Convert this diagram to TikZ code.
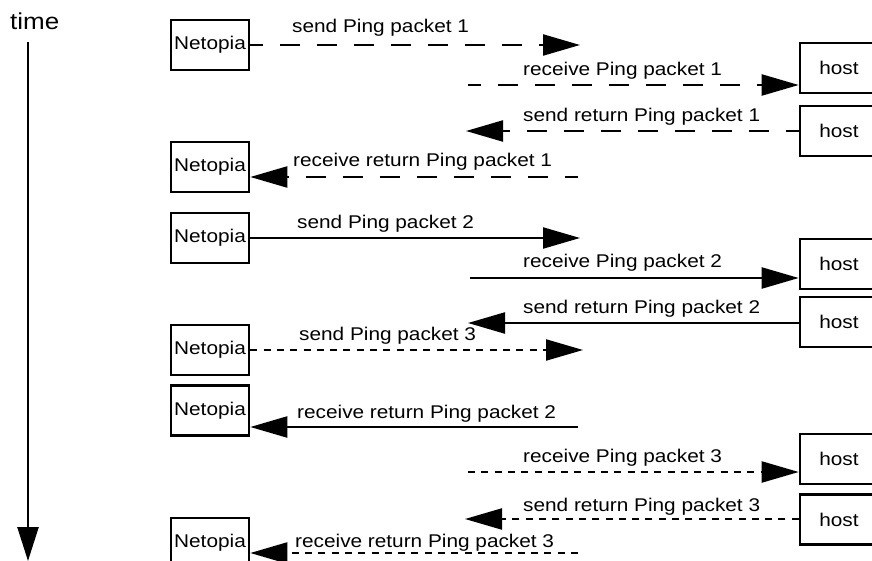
\documentclass[tikz,border=0pt]{standalone}
\usepackage{fontspec}
\setmainfont{Liberation Sans}[FakeStretch=1.13]
\usetikzlibrary{arrows.meta}
\newcommand{\lab}{\fontsize{18.4}{22}\selectfont}
\begin{document}
\begin{tikzpicture}[x=1pt,y=-1pt,
  box/.style={draw, line width=2.6pt, minimum width=78pt, minimum height=50pt, inner sep=0pt, font=\lab},
  msg/.style={line width=2.2pt, -{Triangle[length=37pt,width=21pt]}},
  dsh/.style={dash pattern=on 20pt off 17pt, dash phase=7pt},
  dts/.style={dash pattern=on 7pt off 6.3pt},
  lbl/.style={anchor=base west, inner sep=0pt, font=\lab}]
\useasboundingbox (0,0) rectangle (872,561);
\clip (0,0) rectangle (872,561);
% time axis
\node[anchor=base west, inner sep=0pt, font=\fontsize{23}{27}\selectfont] (time) at (10,30) {time};
\coordinate (t0) at (28,42);
\coordinate (t1) at (28,561);
\draw[line width=2.4pt, -{Triangle[length=34pt,width=21pt]}] (t0) -- (t1);
% Netopia boxes
\node[box] (n1) at (210,45) {Netopia};
\node[box] (n2) at (210,167) {Netopia};
\node[box] (n3) at (210,238) {Netopia};
\node[box] (n4) at (210,350) {Netopia};
\node[box] (n5) at (210,410.5) {Netopia};
\node[box] (n6) at (210,543) {Netopia};
% host boxes
\node[box] (h1) at (839,68) {host};
\node[box] (h2) at (839,131) {host};
\node[box] (h3) at (839,264) {host};
\node[box] (h4) at (839,322) {host};
\node[box] (h5) at (839,459) {host};
\node[box] (h6) at (839,519.5) {host};
% free ends
\coordinate (e1) at (580,45);
\coordinate (e2) at (468,85);
\coordinate (e3) at (466,131);
\coordinate (e4) at (578,177);
\coordinate (e5) at (580,238);
\coordinate (e6) at (470,278);
\coordinate (e7) at (468,323);
\coordinate (e8) at (583,350);
\coordinate (e9) at (578,427);
\coordinate (e10) at (468,472);
\coordinate (e11) at (465,519);
\coordinate (e12) at (578,553);
% labels
\node[lbl] (l1) at (292,33) {send Ping packet 1};
\node[lbl] (l2) at (523,76) {receive Ping packet 1};
\node[lbl] (l3) at (523,122) {send return Ping packet 1};
\node[lbl] (l4) at (293,167) {receive return Ping packet 1};
\node[lbl] (l5) at (297,229) {send Ping packet 2};
\node[lbl] (l6) at (523,268) {receive Ping packet 2};
\node[lbl] (l7) at (523,313) {send return Ping packet 2};
\node[lbl] (l8) at (299,340) {send Ping packet 3};
\node[lbl] (l9) at (297,418) {receive return Ping packet 2};
\node[lbl] (l10) at (523,462) {receive Ping packet 3};
\node[lbl] (l11) at (523,511) {send return Ping packet 3};
\node[lbl] (l12) at (295,547) {receive return Ping packet 3};
% messages
\draw[msg,dsh] (n1.east) -- (e1);
\draw[msg,dsh] (e2) -- (h1.west |- e2);
\draw[msg,dsh] (h2.west) -- (e3);
\draw[msg,dsh] (e4) -- (n2.east |- e4);
\draw[msg] (n3.east) -- (e5);
\draw[msg] (e6) -- (h3.west |- e6);
\draw[msg] (h4.west |- e7) -- (e7);
\draw[msg,dts] (n4.east) -- (e8);
\draw[msg] (e9) -- (n5.east |- e9);
\draw[msg,dts] (e10) -- (h5.west |- e10);
\draw[msg,dts] (h6.west |- e11) -- (e11);
\draw[msg,dts] (e12) -- (n6.east |- e12);
\end{tikzpicture}
\end{document}
